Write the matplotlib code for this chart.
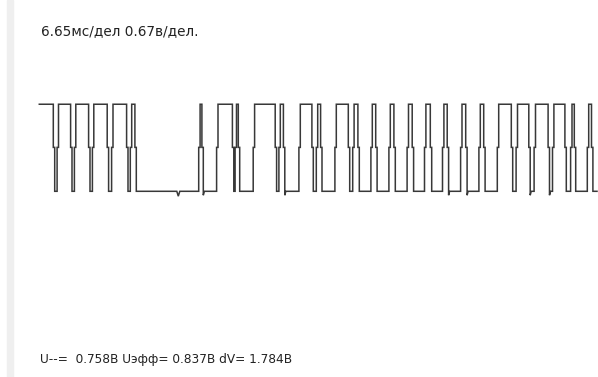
import matplotlib
matplotlib.use("Agg")
import matplotlib.pyplot as plt
from matplotlib.patches import Rectangle

# scope settings and readouts
ms_div = 6.65
v_div = 0.67
u_dc = 0.758
u_rms = 0.837
dv = 1.784

v_low = 0.0
v_high = dv
v_mid = 0.9

# edge times, ms
t_fall = [2.94, 6.40, 10.00, 13.72, 17.60, 19.26, 32.66, 38.76, 39.94, 47.32,
          48.96, 54.66, 56.40, 61.94, 63.86, 67.42, 71.06, 74.72, 78.34, 81.72,
          85.42, 89.02, 94.54, 98.04, 101.90, 105.26, 107.14, 110.58]
t_rise = [3.70, 7.16, 10.76, 14.60, 18.34, 32.02, 35.60, 39.30, 42.92, 48.06,
          52.06, 55.54, 59.26, 62.82, 66.46, 70.06, 73.70, 77.18, 80.78, 84.40,
          88.06, 91.74, 95.50, 99.10, 102.78, 106.40, 109.74]
t_end = 111.54
t_hook = [32.66, 48.96, 81.72, 85.42, 98.04, 101.90]
t_glitch = [27.80]

jog = 0.28
hook_depth = 0.08
glitch_depth = 0.1

events = sorted([(t, "fall") for t in t_fall] +
                [(t, "rise") for t in t_rise] +
                [(t, "glitch") for t in t_glitch])

xs, ys = [0.0], [v_high]
for t, kind in events:
    if kind == "glitch":
        xs += [t - 0.3, t, t + 0.3]
        ys += [v_low, v_low - glitch_depth, v_low]
        continue
    a, b = (v_high, v_low) if kind == "fall" else (v_low, v_high)
    xs += [t - jog / 2, t - jog / 2, t + jog / 2, t + jog / 2]
    ys += [a, v_mid, v_mid, b]
    if kind == "fall" and t in t_hook:
        ys[-1] = v_low - hook_depth
        xs.append(t + jog / 2 + 0.2)
        ys.append(v_low)
xs.append(t_end)
ys.append(ys[-1])

W, H = 598, 377
fig = plt.figure(figsize=(W / 100, H / 100), dpi=100)
fig.patch.set_facecolor("white")

# pixel placement of the trace
x0_px, ms_px = 39.3, 0.2
low_px, px_v = 191.3, 48.8

ax = fig.add_axes([0, 0, 1, 1])
ax.set_xlim(-x0_px * ms_px, (W - x0_px) * ms_px)
ax.set_ylim((low_px - H) / px_v, low_px / px_v)
ax.axis("off")
ax.plot(xs, ys, color="#383838", lw=1.1, solid_joinstyle="miter")

fig.patches.append(Rectangle((7 / W, 0), 6 / W, 1, transform=fig.transFigure,
                             color="#efefef", zorder=0))

fig.text(41 / W, 1 - 31 / H, f"{ms_div}мс/дел {v_div}в/дел.",
         fontsize=9.8, color="#222222", va="center", family="DejaVu Sans")
fig.text(40 / W, 1 - 360 / H,
         f"U--=  {u_dc}В Uэфф= {u_rms}В dV= {dv}В",
         fontsize=8.7, color="#222222", va="center", family="DejaVu Sans")

fig.savefig("out.png", dpi=100, facecolor="white")
